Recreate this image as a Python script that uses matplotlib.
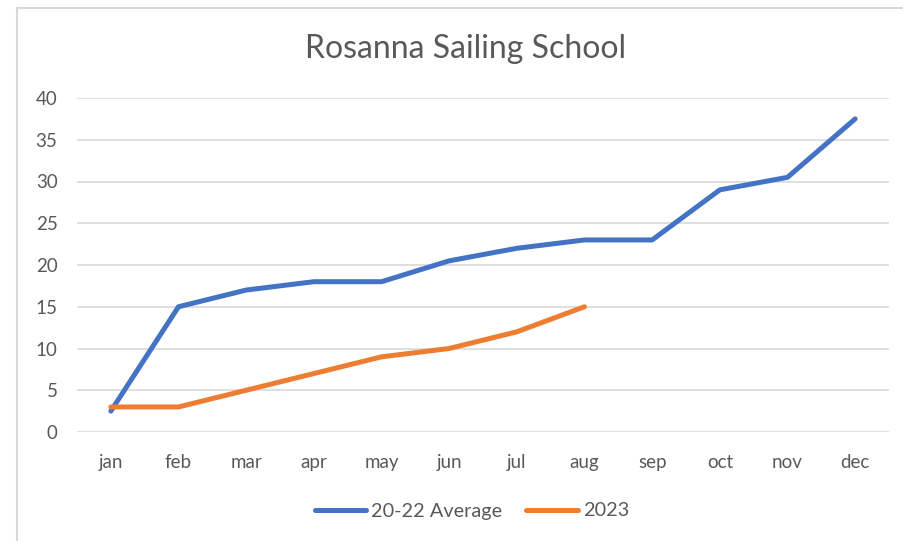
import matplotlib
matplotlib.use("Agg")
import matplotlib.pyplot as plt
from matplotlib.lines import Line2D

months = ["jan", "feb", "mar", "apr", "may", "jun", "jul", "aug", "sep", "oct", "nov", "dec"]
avg_20_22 = [2.5, 15, 17, 18, 18, 20.5, 22, 23, 23, 29, 30.5, 37.5]
y2023 = [3, 3, 5, 7, 9, 10, 12, 15]
yticks = [0, 5, 10, 15, 20, 25, 30, 35, 40]

plt.rcParams['font.family'] = ['Lato', 'DejaVu Sans']
txt = '#595959'

fig = plt.figure(figsize=(9.04, 5.41), dpi=100)
ax = fig.add_axes([77/904, 1-432/541, (889-77)/904, (432-98)/541])

x1 = list(range(len(avg_20_22)))
x2 = list(range(len(y2023)))
ax.plot(x1, avg_20_22, color='#4472C4', lw=3.6, solid_capstyle='round', solid_joinstyle='round', label='20-22 Average', zorder=3)
ax.plot(x2, y2023, color='#ED7D31', lw=3.6, solid_capstyle='round', solid_joinstyle='round', label='2023', zorder=3)

ax.set_xlim(-0.5, 11.5)
ax.set_ylim(0, 40)
ax.set_yticks(yticks)
ax.set_xticks(range(len(months)))
ax.set_xticklabels(months)
ax.yaxis.grid(True, color='#D9D9D9', lw=1.2)
ax.set_axisbelow(True)
for s in ax.spines.values():
    s.set_visible(False)
ax.tick_params(axis='both', length=0, colors=txt, labelsize=13.5)
ax.tick_params(axis='y', pad=14)
ax.tick_params(axis='x', pad=16)

fig.text(466/904, 1-49/541, 'Rosanna Sailing School', ha='center', va='center', fontsize=23, color=txt)

leg = fig.legend(loc='center', bbox_to_anchor=(472/904, 1-511/541), ncol=2, frameon=False,
                 fontsize=14.3, handlelength=2.6, handletextpad=0.25, columnspacing=1.2)
for t in leg.get_texts():
    t.set_color(txt)
for h in leg.get_lines():
    h.set_linewidth(3.6)

fig.add_artist(Line2D([17/904, 17/904], [0, 1-8/541], transform=fig.transFigure, color='#D9D9D9', lw=1.5))
fig.add_artist(Line2D([17/904, 1], [1-8/541, 1-8/541], transform=fig.transFigure, color='#D9D9D9', lw=1.5))

fig.savefig('out.png', dpi=100, facecolor='white')
